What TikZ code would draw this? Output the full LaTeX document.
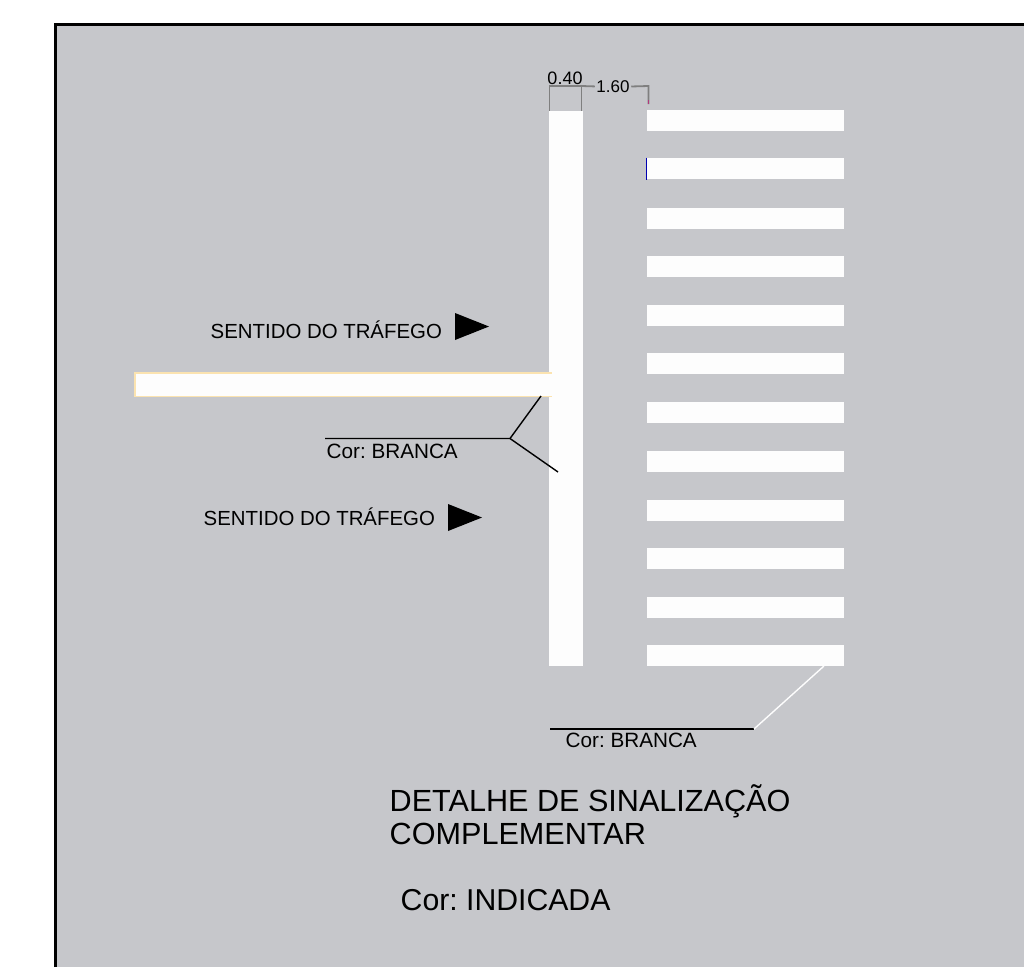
\documentclass[tikz,border=0pt]{standalone}
\usepackage{fontspec}
\setmainfont{Liberation Sans}
\frenchspacing
\usetikzlibrary{positioning}
\definecolor{pavement}{HTML}{C6C7CB}
\definecolor{paint}{HTML}{FDFDFD}
\definecolor{edgeyellow}{HTML}{FBE3B0}
\definecolor{dimgrey}{HTML}{7F7F7F}

\begin{document}
\begin{tikzpicture}[x=1pt,y=-1pt,line width=1.4pt,
        stripe/.style={fill=paint,draw=none,inner sep=0pt,minimum width=197pt,minimum height=21pt,anchor=north west},
        label/.style={inner sep=0pt,anchor=base west,font=\fontsize{20.7}{24}\selectfont},
        sense/.style={inner sep=0pt,anchor=base west,font=\fontsize{20.4}{24}\selectfont},
        title/.style={inner sep=0pt,anchor=base west,font=\fontsize{30.6}{33}\selectfont},
        dim/.style={inner sep=0pt,font=\fontsize{17}{20}\selectfont},
        dimline/.style={draw=dimgrey,line width=1.8pt}]
    \useasboundingbox (0,0) rectangle (1024,967);
    % sheet
    \fill[pavement] (55,24) rectangle (1024,967);
    \draw[line width=3pt] (55,967) -- (55,24) -- (1024,24);
    % road marks
    \node[fill=paint,inner sep=0pt,minimum width=34pt,minimum height=555pt,anchor=north west] (bar) at (548.5,110.5) {};
    \node[fill=edgeyellow,inner sep=0pt,minimum width=418pt,minimum height=25pt,anchor=north west] (edge) at (133.5,371.5) {};
    \node[fill=paint,inner sep=0pt,minimum width=416pt,minimum height=22pt,anchor=north west] (stopline) at (135,373) {};
    \foreach \i/\y in {1/109.5,2/157.5,3/207.5,4/255.5,5/304.5,6/352.5,7/401.5,8/450.5,9/499.5,10/547.5,11/596.5,12/644.5}
        \node[stripe] (s\i) at (646.5,\y) {};
    % dimensions
    \coordinate (d1) at (549.5,86);
    \coordinate (d2) at (581.5,86);
    \coordinate (d3) at (648.5,86);
    \coordinate (d4) at (648.5,104);
    \node[dim,font=\fontsize{18}{20}\selectfont] (w1) at (565,78) {0.40};
    \node[dim,fill=pavement,inner xsep=1pt] (w2) at (613,87) {1.60};
    \draw[dimline] (bar.north west -| d1) -- (d1) -- (d2) -- (bar.north west -| d2);
    \draw[dimline] (d2) -- (w2);
    \draw[dimline] (w2) -- (d3) -- (d4);
    \draw[magenta!70!black,line width=1pt] (648.5,100) -- (d4);
    \draw[blue!70!black,line width=1pt] (s2.north west) -- (s2.south west);
    % traffic direction
    \node[sense] (t1) at (210,338) {SENTIDO DO TRÁFEGO};
    \node[sense] (t2) at (203,525) {SENTIDO DO TRÁFEGO};
    \fill (455,313) -- (489,326.5) -- (455,340) -- cycle;
    \fill (448,504) -- (482,517.5) -- (448,531) -- cycle;
    % leaders
    \node[label] (c1) at (326,458) {Cor: BRANCA};
    \coordinate (l1) at (325,438.5);
    \coordinate (l2) at (510,438.5);
    \coordinate (l3) at (541,396);
    \coordinate (l4) at (558,472);
    \draw (l1) -- (l2) -- (l3);
    \draw (l2) -- (l4);
    \node[label] (c2) at (565,747) {Cor: BRANCA};
    \coordinate (m1) at (550,729);
    \coordinate (m2) at (754,729);
    \coordinate (m3) at (824,666);
    \draw (m1) -- (m2);
    \draw[paint] (m2) -- (m3);
    % titles
    \node[title] (h1) at (389,811.5) {DETALHE DE SINALIZAÇÃO};
    \node[title] (h2) at (389,844.5) {COMPLEMENTAR};
    \node[title,font=\fontsize{30.2}{33}\selectfont] (h3) at (400,910.5) {Cor: INDICADA};
\end{tikzpicture}
\end{document}
